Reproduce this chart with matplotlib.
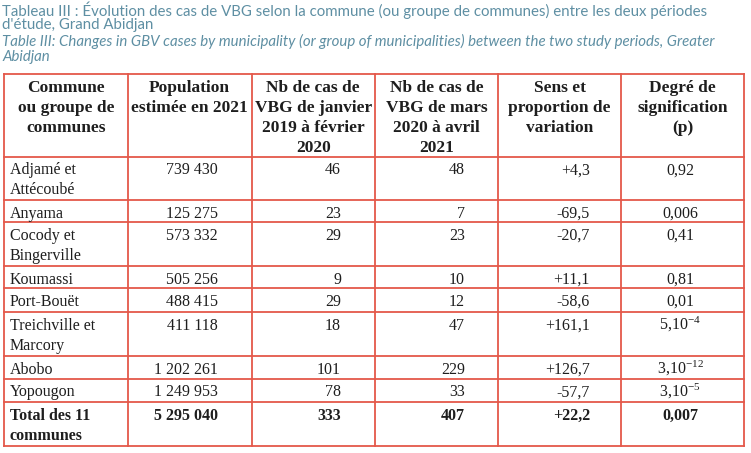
import matplotlib.pyplot as plt

# Table data (Tableau III)
title_fr = ["Tableau III : Évolution des cas de VBG selon la commune (ou groupe de communes) entre les deux périodes",
            "d'étude, Grand Abidjan"]
title_en = ["Table III: Changes in GBV cases by municipality (or group of municipalities) between the two study periods, Greater",
            "Abidjan"]

headers = [
    ["Commune", "ou groupe de", "communes"],
    ["Population", "estimée en 2021"],
    ["Nb de cas de", "VBG de janvier", "2019 à février", "2020"],
    ["Nb de cas de", "VBG de mars", "2020 à avril", "2021"],
    ["Sens et", "proportion de", "variation"],
    ["Degré de", "signification", "(p)"],
]

communes = [["Adjamé et", "Attécoubé"], ["Anyama"], ["Cocody et", "Bingerville"], ["Koumassi"],
            ["Port-Bouët"], ["Treichville et", "Marcory"], ["Abobo"], ["Yopougon"]]
population = ["739 430", "125 275", "573 332", "505 256", "488 415", "411 118", "1 202 261", "1 249 953"]
cas_avant = ["46", "23", "29", "9", "29", "18", "101", "78"]
cas_apres = ["48", "7", "23", "10", "12", "47", "229", "33"]
variation = ["+4,3", "-69,5", "-20,7", "+11,1", "-58,6", "+161,1", "+126,7", "-57,7"]
p_values = ["0,92", "0,006", "0,41", "0,81", "0,01", r"5,10$^{-4}$", r"3,10$^{-12}$", r"3,10$^{-5}$"]

total = [["Total des 11", "communes"], "5 295 040", "333", "407", "+22,2", "0,007"]

# layout (pixels)
W, H = 751, 453
col_x = [4, 127.5, 251.5, 375, 498, 621, 744]
row_y = [74, 157, 200, 222, 266, 288, 312, 356, 379, 402, 446]
right_x = [None, 218, 341, 465, 590]
p_center = 680
line_h = 20

border = '#E4584A'
title_color = '#5E8FA3'
ink = '#1e1e1e'

plt.rcParams['font.family'] = 'serif'
plt.rcParams['font.serif'] = ['Liberation Serif']
plt.rcParams['mathtext.fontset'] = 'custom'
plt.rcParams['mathtext.rm'] = 'Liberation Serif'
plt.rcParams['mathtext.it'] = 'Liberation Serif:italic'
plt.rcParams['mathtext.bf'] = 'Liberation Serif:bold'

fig = plt.figure(figsize=(W / 100, H / 100), dpi=100)
ax = fig.add_axes([0, 0, 1, 1])
ax.set_xlim(0, W)
ax.set_ylim(H, 0)
ax.axis('off')

# title
for i, line in enumerate(title_fr):
    ax.text(2, 10 + 15.5 * i, line, fontsize=10.8, family='Lato', color=title_color, va='center')
for i, line in enumerate(title_en):
    ax.text(2, 41 + 15.5 * i, line, fontsize=10.8, family='Lato', style='italic',
            color=title_color, va='center')

# grid
for x in col_x:
    ax.plot([x, x], [row_y[0], row_y[-1]], color=border, lw=1.3, solid_capstyle='projecting')
for y in row_y:
    ax.plot([col_x[0], col_x[-1]], [y, y], color=border, lw=1.3, solid_capstyle='projecting')

# header
for c, lines in enumerate(headers):
    cx = (col_x[c] + col_x[c + 1]) / 2
    for i, t in enumerate(lines):
        ax.text(cx, row_y[0] + 18 + line_h * i, t, fontsize=12.5,
                weight='bold', ha='center', va='baseline', color=ink)

# body rows
for r in range(len(communes)):
    base = row_y[r + 1] + 17.5
    for i, t in enumerate(communes[r]):
        ax.text(col_x[0] + 6, base + line_h * i, t, fontsize=11.5,
                ha='left', va='baseline', color=ink)
    for c, vals in zip(range(1, 5), [population, cas_avant, cas_apres, variation]):
        ax.text(right_x[c], base, vals[r], fontsize=11.5,
                ha='right', va='baseline', color=ink)
    ax.text(p_center, base, p_values[r], fontsize=11.5,
            ha='center', va='baseline', color=ink)

# total row
base = row_y[-2] + 17.5
for i, t in enumerate(total[0]):
    ax.text(col_x[0] + 6, base + line_h * i, t, fontsize=11.5, weight='bold',
            ha='left', va='baseline', color=ink)
for c in range(1, 5):
    ax.text(right_x[c], base, total[c], fontsize=11.5, weight='bold',
            ha='right', va='baseline', color=ink)
ax.text(p_center, base, total[5], fontsize=11.5, weight='bold',
        ha='center', va='baseline', color=ink)

fig.savefig('out.png', dpi=100)
